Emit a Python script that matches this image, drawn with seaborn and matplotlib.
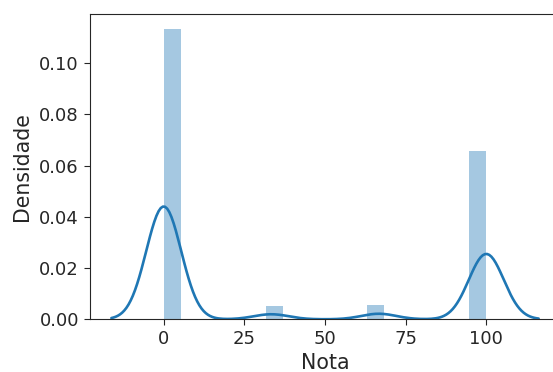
import numpy as np
import pandas as pd
import matplotlib
matplotlib.use("Agg")
import matplotlib.pyplot as plt
import seaborn as sns

# Scores and how many students got each
notas = [0.0, 33.33, 66.67, 100.0]
contagens = [29885, 1335, 1470, 17310]

dados = pd.DataFrame({"Nota": np.repeat(notas, contagens)})

sns.set_style("ticks")
plt.rcParams["font.family"] = ["DejaVu Sans"]

fig = plt.figure(figsize=(5.53, 3.72), dpi=100)
ax = fig.add_axes([90 / 553, 52.7 / 372, 470 / 553, 305.3 / 372])

cor = "#1f77b4"
sns.histplot(data=dados, x="Nota", bins=19, stat="density", color=cor,
             alpha=0.4, linewidth=0, ax=ax)
sns.kdeplot(data=dados, x="Nota", color=cor, linewidth=1.9, ax=ax)

ax.set_xticks([0, 25, 50, 75, 100])
ax.set_yticks([0.0, 0.02, 0.04, 0.06, 0.08, 0.10])
ax.yaxis.set_major_formatter(matplotlib.ticker.FormatStrFormatter("%.2f"))
ax.tick_params(labelsize=13, length=4, width=0.8, colors="#262626", pad=4)
ax.set_xlabel("Nota", fontsize=14.8, color="#262626", labelpad=3)
ax.set_ylabel("Densidade", fontsize=14.8, color="#262626", labelpad=5)
for s in ax.spines.values():
    s.set_linewidth(0.8)
    s.set_color("#262626")

fig.savefig("out.png", dpi=100)
